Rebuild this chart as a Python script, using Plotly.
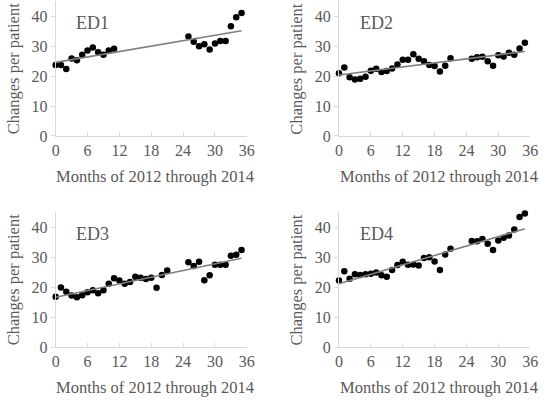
import numpy as np
import plotly.graph_objects as go

months = [0, 1, 2, 3, 4, 5, 6, 7, 8, 9, 10, 11, 12, 13, 14, 15, 16, 17, 18, 19, 20, 21,
          25, 26, 27, 28, 29, 30, 31, 32, 33, 34, 35]
months_ed1 = [0, 1, 2, 3, 4, 5, 6, 7, 8, 9, 10, 11,
              25, 26, 27, 28, 29, 30, 31, 32, 33, 34, 35]

ed1 = [23.7, 23.7, 22.4, 25.9, 25.3, 27.2, 28.6, 29.6, 28.0, 27.2, 28.6, 29.2,
       33.3, 31.5, 30.0, 30.7, 28.9, 30.9, 31.8, 31.8, 36.7, 39.7, 41.1]
ed2 = [21.0, 22.9, 19.6, 18.9, 19.1, 19.8, 21.8, 22.5, 21.4, 21.7, 22.6, 23.9, 25.5, 25.5,
       27.3, 25.8, 25.0, 23.7, 23.4, 21.6, 23.5, 26.0,
       25.8, 26.3, 26.5, 25.0, 23.5, 27.0, 26.6, 27.8, 27.2, 29.3, 31.2]
ed3 = [16.8, 19.9, 18.5, 17.2, 16.6, 17.3, 18.3, 19.0, 18.0, 19.0, 21.1, 23.0, 22.2, 21.1,
       21.7, 23.5, 23.1, 22.7, 23.1, 19.8, 24.1, 25.6,
       28.3, 27.1, 28.5, 22.3, 24.0, 27.5, 27.5, 27.5, 30.5, 30.8, 32.4]
ed4 = [22.2, 25.3, 22.8, 24.3, 24.1, 24.3, 24.5, 24.9, 24.0, 23.5, 25.7, 27.4, 28.5, 27.5,
       27.6, 27.2, 29.7, 30.0, 28.6, 25.7, 30.9, 32.8,
       35.4, 35.3, 36.1, 34.5, 32.4, 35.6, 36.5, 37.2, 39.2, 43.4, 44.6]

labels = ["ED1", "ED2", "ED3", "ED4"]
x_ticks = [0, 6, 12, 18, 24, 30, 36]
y_ticks = [0, 10, 20, 30, 40]
x_title = "Months of 2012 through 2014"
y_title = "Changes per patient"

W, H = 547, 407
FONT = "Liberation Serif"
TXT = "#595959"

series = [(months_ed1, ed1), (months, ed2), (months, ed3), (months, ed4)]

# pixel boxes of plot areas: (x0, x1, ytop, ybottom)
boxes = [(52.8, 248.3, 1.5, 139.0), (342.5, 538.0, 1.5, 139.0),
         (52.8, 248.3, 217.0, 355.0), (342.5, 538.0, 217.0, 355.0)]

fig = go.Figure()
for i, ((xs, ys), lab, (x0, x1, yt, yb)) in enumerate(zip(series, labels, boxes)):
    n = "" if i == 0 else str(i + 1)
    xa, ya = "x" + n, "y" + n
    fig.add_trace(go.Scatter(x=xs, y=ys, mode="markers", xaxis=xa, yaxis=ya,
                             marker=dict(color="black", size=6.5), showlegend=False,
                             cliponaxis=False))
    b, a = np.polyfit(xs, ys, 1)
    fx = [min(xs), max(xs)]
    fig.add_trace(go.Scatter(x=fx, y=[a + b * v for v in fx], mode="lines",
                             xaxis=xa, yaxis=ya, line=dict(color="#7f7f7f", width=1.6),
                             showlegend=False))
    common = dict(showgrid=False, zeroline=False, showline=True, linecolor="#d9d9d9",
                  linewidth=1, tickfont=dict(family=FONT, size=16, color=TXT),
                  tickcolor="#d9d9d9", ticklen=4, ticklabeloverflow="allow")
    fig.layout["xaxis" + n] = dict(domain=[x0 / W, x1 / W], range=[0, 36],
                                   tickvals=x_ticks, ticks="inside", anchor=ya, **common)
    fig.layout["yaxis" + n] = dict(domain=[1 - yb / H, 1 - yt / H], range=[0, 45],
                                   tickvals=y_ticks, ticks="outside", anchor=xa, **common)
    # ED label
    fig.add_annotation(x=(x0 + 38) / W, y=1 - (yt + 22) / H, xref="paper", yref="paper",
                       text=lab, showarrow=False, xanchor="center", yanchor="middle",
                       font=dict(family=FONT, size=18, color=TXT))
    # x title
    fig.add_annotation(x=((x0 + x1) / 2 + 4) / W, y=1 - (yb + 41) / H, xref="paper",
                       yref="paper", text=x_title, showarrow=False,
                       xanchor="center", yanchor="middle",
                       font=dict(family=FONT, size=16.5, color=TXT))
    # y title
    fig.add_annotation(x=(x0 - 43) / W, y=1 - (yt + yb) / 2 / H, xref="paper",
                       yref="paper", text=y_title, showarrow=False, textangle=-90,
                       xanchor="center", yanchor="middle",
                       font=dict(family=FONT, size=16.5, color=TXT))

fig.update_layout(width=W, height=H, margin=dict(l=0, r=0, t=0, b=0),
                  font=dict(family=FONT, color=TXT),
                  plot_bgcolor="white", paper_bgcolor="white")
fig.write_html("out.html", config={"displayModeBar": False},
               post_script="document.body.style.margin='0';document.body.style.overflow='hidden';")
